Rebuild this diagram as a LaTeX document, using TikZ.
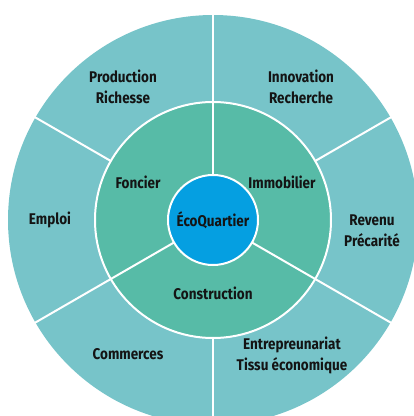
\documentclass[tikz,border=0pt]{standalone}
\usepackage{fontspec}
\setmainfont{Fira Sans}[FakeStretch=0.87]
\usetikzlibrary{calc}
\definecolor{outerc}{RGB}{119,196,201}
\definecolor{midc}{RGB}{87,187,167}
\definecolor{innerc}{RGB}{5,159,225}
\definecolor{txt}{RGB}{20,20,20}
\begin{document}
\begin{tikzpicture}[x=1pt,y=1pt,
  lbl/.style={font=\bfseries\fontsize{15.5}{21}\selectfont, text=txt, align=center, inner sep=0pt},
  sep/.style={draw=white, line width=2pt}]
\useasboundingbox (0,0) rectangle (414,416);
\clip (0,0) rectangle (414,416);
\coordinate (c) at (213,196);
\fill[outerc] (c) circle (205);
\foreach \a in {90,30,-30,-90,-150,150}
  \draw[sep] ($(c)+(\a:118)$) -- ($(c)+(\a:212)$);
\draw[sep, fill=midc] (c) circle (118);
\foreach \a in {90,210,330}
  \draw[sep] ($(c)+(\a:45)$) -- ($(c)+(\a:118)$);
\node[circle, fill=innerc, draw=white, line width=2pt, minimum size=90pt, inner sep=0pt, font=\bfseries\fontsize{15.5}{21}\selectfont, text=txt] (eco) at (c) {ÉcoQuartier};
\node[lbl] (prod) at (123,329.5) {Production\\Richesse};
\node[lbl] (inno) at (301,329.5) {Innovation\\Recherche};
\node[lbl] (fonc) at (138,234) {Foncier};
\node[lbl] (immo) at (282,234) {Immobilier};
\node[lbl] (empl) at (50,196) {Emploi};
\node[lbl] (reve) at (372,185) {Revenu\\Précarité};
\node[lbl] (cons) at (213,123) {Construction};
\node[lbl] (comm) at (128,62) {Commerces};
\node[lbl] (entr) at (292,60.5) {Entrepreunariat\\Tissu économique};
\end{tikzpicture}
\end{document}
